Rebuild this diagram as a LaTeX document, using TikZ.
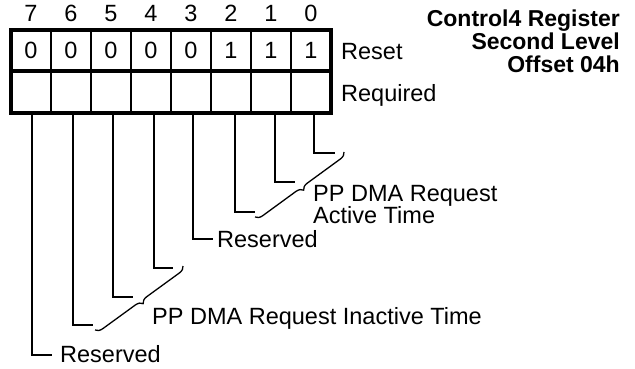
\documentclass[tikz,border=0pt]{standalone}
\usepackage{fontspec}
\setmainfont{Liberation Sans}
\usetikzlibrary{decorations.pathreplacing}
\begin{document}
\begin{tikzpicture}[x=1pt,y=-1pt,
  lbl/.style={font=\fontsize{23.5}{26}\selectfont, inner sep=0pt},
  ttl/.style={font=\fontsize{23}{26}\selectfont\bfseries, inner sep=0pt, anchor=base east},
  thinline/.style={line width=1.3pt},
  thickline/.style={line width=4pt},
  leader/.style={line width=1.3pt},
  bracestyle/.style={line width=1.3pt, decorate, decoration={brace, amplitude=7pt}}]
\useasboundingbox (0,0) rectangle (635,369);
% grid
\foreach \i in {1,...,7} \draw[thinline] (11+40*\i,30) -- (11+40*\i,112.5);
\draw[thickline] (11,71) -- (331,71);
\draw[thickline] (11,30) rectangle (331,112.5);
% bit numbers and reset values
\foreach \b [count=\i from 0] in {7,6,...,0}
  \node[lbl, anchor=base] (n\b) at (31+40*\i,22) {\b};
\foreach \v [count=\i from 0] in {0,0,0,0,0,1,1,1}
  \node[lbl] (r\i) at (31+40*\i,50.5) {\v};
\node[lbl, anchor=base west] (reset) at (341,60) {Reset};
\node[lbl, anchor=base west] (req) at (341,102) {Required};
% title
\node[ttl] (t1) at (620,27) {Control4 Register};
\node[ttl] (t2) at (620,49.5) {Second Level};
\node[ttl] (t3) at (620,72.5) {Offset 04h};
% leader start/end points
\foreach \k/\x/\y/\e in {0/314/153/335, 1/275/182/295, 2/235/212/255, 3/193/239/213,
                         4/154/268/173, 5/113/297/133, 6/73/325/93, 7/32/355/52} {
  \coordinate (s\k) at (\x,112.5);
  \coordinate (e\k) at (\e,\y);
  \draw[leader] (s\k) |- (e\k);
}
% braces
\coordinate (ba1) at (344,152);
\coordinate (ba2) at (255,217);
\draw[bracestyle] (ba1) -- (ba2);
\coordinate (bb1) at (183,266);
\coordinate (bb2) at (95,330);
\draw[bracestyle] (bb1) -- (bb2);
% labels
\node[lbl, anchor=base west] (act1) at (313,201) {PP DMA Request};
\node[lbl, anchor=base west] (act2) at (313,223.5) {Active Time};
\node[lbl, anchor=base west] (res3) at (217,247) {Reserved};
\node[lbl, anchor=base west] (inact) at (152,324) {PP DMA Request Inactive Time};
\node[lbl, anchor=base west] (res7) at (60,362) {Reserved};
\end{tikzpicture}
\end{document}
